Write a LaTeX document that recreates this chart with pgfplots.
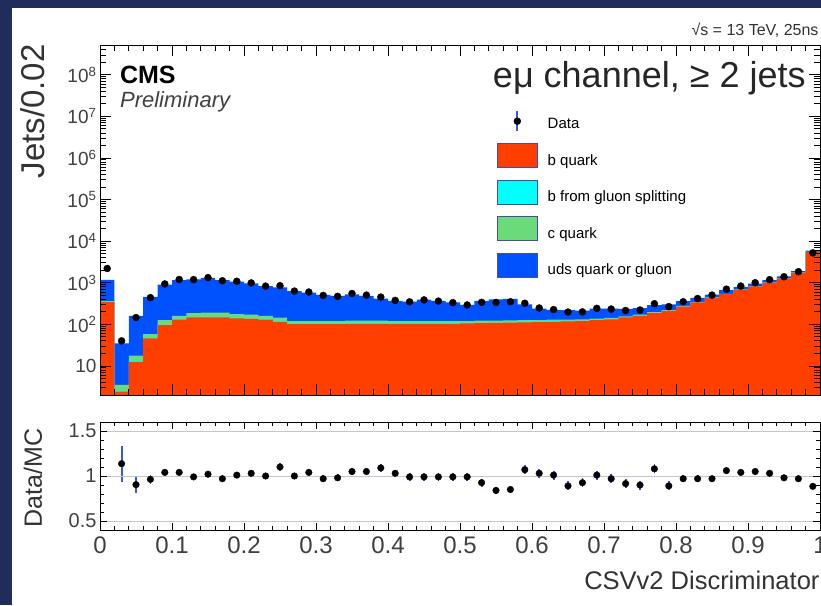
\documentclass[border=0pt]{standalone}
\usepackage{fontspec}
\setmainfont{Liberation Sans}
\usepackage{pgfplots}
\usepackage{pgfplotstable}
\pgfplotsset{compat=1.18}

\definecolor{borange}{HTML}{FF3F00}
\definecolor{gspcyan}{HTML}{00FFFF}
\definecolor{cgreen}{HTML}{6BDB7A}
\definecolor{udsblue}{HTML}{0051FF}
\definecolor{errblue}{HTML}{3A55E8}
\definecolor{boxedge}{HTML}{4A4AA8}
\definecolor{bgnavy}{HTML}{1F2C5C}

% MC stack: left bin edge, b quark, b from gluon splitting, c quark, uds/gluon
\pgfplotstableread{
x b gsp c uds
0.00 340 5 15 810
0.02 2.4 0.1 1.0 31.5
0.04 12.6 0.4 4.6 142.4
0.06 46 1 11 397
0.08 96 2 28 774
0.10 129 3 28 990
0.12 146 3 37 1014
0.14 146 3 41 1110
0.16 146 3 41 960
0.18 140 3 32 895
0.20 135 3 32 790
0.22 130 3 27 670
0.24 115 3 27 625
0.26 101 2 17 510
0.28 101 2 17 455
0.30 101 2 17 390
0.32 101 2 17 360
0.34 103 2 17 403
0.36 103 2 17 358
0.38 103 2 17 293
0.40 103 2 15 245
0.42 103 2 15 230
0.44 103 2 15 270
0.46 103 2 15 245
0.48 103 2 15 215
0.50 105 2 13 175
0.52 107 2 13 243
0.54 108 2 13 277
0.56 110 2 13 285
0.58 112 2 12 174
0.60 113 2 12 113
0.62 115 2 12 95
0.64 117 2 11 91
0.66 120 2 10 83
0.68 126 2 9 103
0.70 132 2 9 97
0.72 146 2 8 79
0.74 160 2 8 75
0.76 186 2 8 94
0.78 211 2 7 80
0.80 267 2 8 83
0.82 335 2 8 85
0.84 440 2 8 70
0.86 530 2 8 120
0.88 680 3 7 110
0.90 815 3 7 125
0.92 1010 3 7 130
0.94 1260 3 7 150
0.96 1760 3 7 130
0.98 5500 5 15 380
1.00 5500 5 15 380
}\mc

% Data: bin centre, jets, error
\pgfplotstableread{
x y ey
0.01 2200 47
0.03 40 6.3
0.05 145 12
0.07 438 21
0.09 936 31
0.11 1196 35
0.13 1188 34
0.15 1326 36
0.17 1116 33
0.19 1081 33
0.21 989 31
0.23 830 29
0.25 847 29
0.27 630 25
0.29 598 24
0.31 495 22
0.33 470 22
0.35 551 23
0.37 504 22
0.39 452 21
0.41 376 19
0.43 347 19
0.45 386 20
0.47 361 19
0.49 332 18
0.51 292 17
0.53 338 18
0.55 336 18
0.57 349 19
0.59 321 18
0.61 247 16
0.63 226 15
0.65 197 14
0.67 199 14
0.69 242 16
0.71 233 15
0.73 215 15
0.75 221 15
0.77 313 18
0.79 267 16
0.81 349 19
0.83 417 20
0.85 504 22
0.87 700 26
0.89 832 29
0.91 998 32
0.93 1185 34
0.95 1392 37
0.97 1843 43
0.99 5222 72
}\data

% Data/MC ratio
\pgfplotstableread{
x r er
0.03 1.137 0.20
0.05 0.904 0.09
0.07 0.963 0.05
0.09 1.04 0.02
0.11 1.04 0.02
0.13 0.99 0.02
0.15 1.02 0.02
0.17 0.97 0.02
0.19 1.01 0.02
0.21 1.03 0.02
0.23 1.00 0.02
0.25 1.10 0.04
0.27 1.00 0.03
0.29 1.04 0.04
0.31 0.97 0.04
0.33 0.98 0.04
0.35 1.05 0.04
0.37 1.05 0.04
0.39 1.09 0.04
0.41 1.03 0.04
0.43 0.99 0.04
0.45 0.99 0.04
0.47 0.99 0.04
0.49 0.99 0.04
0.51 0.99 0.045
0.53 0.926 0.045
0.55 0.84 0.04
0.57 0.85 0.04
0.59 1.07 0.05
0.61 1.03 0.05
0.63 1.01 0.05
0.65 0.89 0.05
0.67 0.926 0.05
0.69 1.01 0.05
0.71 0.97 0.05
0.73 0.915 0.05
0.75 0.90 0.05
0.77 1.08 0.05
0.79 0.89 0.05
0.81 0.97 0.04
0.83 0.97 0.04
0.85 0.97 0.035
0.87 1.06 0.03
0.89 1.04 0.02
0.91 1.05 0.015
0.93 1.03 0.015
0.95 0.98 0.015
0.97 0.97 0.015
0.99 0.885 0.015
}\ratio

\begin{document}
\begin{tikzpicture}
\fill[white] (0pt,0pt) rectangle (821pt,605pt);
\fill[bgnavy] (0pt,0pt) rectangle (12pt,605pt);
\fill[bgnavy] (0pt,597pt) rectangle (821pt,605pt);

% ---------------- upper panel ----------------
\begin{axis}[
  at={(100pt,210pt)}, anchor=south west,
  scale only axis, width=720pt, height=350pt,
  xmin=0, xmax=1, ymode=log, ymin=2, ymax=5.2e8,
  axis on top, tick align=inside, tick pos=both,
  axis line style={line width=0.9pt},
  tick style={line width=0.8pt, black},
  major tick length=11pt, minor tick length=6pt,
  xtick={0,0.1,0.2,0.3,0.4,0.5,0.6,0.7,0.8,0.9,1},
  minor x tick num=4,
  xticklabels={},
  ytick={10,100,1000,10000,100000,1000000,10000000,100000000},
  yticklabels={10,10\textsuperscript{2},10\textsuperscript{3},10\textsuperscript{4},10\textsuperscript{5},10\textsuperscript{6},10\textsuperscript{7},10\textsuperscript{8}},
  minor ytick={2,3,4,5,6,7,8,9,20,30,40,50,60,70,80,90,200,300,400,500,600,700,800,900,2000,3000,4000,5000,6000,7000,8000,9000,2e4,3e4,4e4,5e4,6e4,7e4,8e4,9e4,2e5,3e5,4e5,5e5,6e5,7e5,8e5,9e5,2e6,3e6,4e6,5e6,6e6,7e6,8e6,9e6,2e7,3e7,4e7,5e7,6e7,7e7,8e7,9e7,2e8,3e8,4e8,5e8},
  yticklabel style={font=\fontsize{19}{19}\selectfont, text=black!75},
  ylabel={Jets/0.02},
  ylabel style={at={(axis description cs:-0.093,0.81)}, anchor=center, font=\fontsize{33}{33}\selectfont, text=black!80},
  legend style={at={(rel axis cs:0.551,0.814)}, anchor=north west, draw=none, fill=none,
    font=\fontsize{15}{15}\selectfont, row sep=11pt, inner sep=0pt,
    cells={anchor=west}, /tikz/every odd column/.append style={column sep=8pt}},
  legend cell align=left,
]
\addlegendimage{legend image code/.code={\draw[errblue, line width=1.8pt] (20pt,-7pt) -- (20pt,13pt); \fill[black] (20pt,3pt) circle (3.5pt);}}
\addlegendentry{Data}
\addlegendimage{legend image code/.code={\draw[fill=borange, draw=boxedge, line width=0.8pt] (0pt,-7pt) rectangle (40pt,17pt);}}
\addlegendentry{b quark}
\addlegendimage{legend image code/.code={\draw[fill=gspcyan, draw=boxedge, line width=0.8pt] (0pt,-7pt) rectangle (40pt,17pt);}}
\addlegendentry{b from gluon splitting}
\addlegendimage{legend image code/.code={\draw[fill=cgreen, draw=boxedge, line width=0.8pt] (0pt,-7pt) rectangle (40pt,17pt);}}
\addlegendentry{c quark}
\addlegendimage{legend image code/.code={\draw[fill=udsblue, draw=boxedge, line width=0.8pt] (0pt,-7pt) rectangle (40pt,17pt);}}
\addlegendentry{uds quark or gluon}

\addplot[const plot mark left, fill=udsblue, draw=none, forget plot]
  table[x=x, y expr=\thisrow{b}+\thisrow{gsp}+\thisrow{c}+\thisrow{uds}] {\mc} \closedcycle;
\addplot[const plot mark left, fill=cgreen, draw=none, forget plot]
  table[x=x, y expr=\thisrow{b}+\thisrow{gsp}+\thisrow{c}] {\mc} \closedcycle;
\addplot[const plot mark left, fill=gspcyan, draw=none, forget plot]
  table[x=x, y expr=\thisrow{b}+\thisrow{gsp}] {\mc} \closedcycle;
\addplot[const plot mark left, fill=borange, draw=none, forget plot]
  table[x=x, y=b] {\mc} \closedcycle;
\addplot[only marks, mark=*, mark size=3.5pt, black, forget plot,
  error bars/.cd, y dir=both, y explicit,
  error bar style={errblue, line width=1.5pt}, error mark=none]
  table[x=x, y=y, y error=ey] {\data};

\node[anchor=west, font=\fontsize{25}{25}\selectfont\bfseries] at (rel axis cs:0.023,0.914) {CMS};
\node[anchor=west, font=\fontsize{22}{22}\selectfont\itshape, text=black!75] at (rel axis cs:0.023,0.837) {Preliminary};
\node[anchor=east, font=\fontsize{36}{36}\selectfont, text=black!85] at (rel axis cs:0.985,0.906) {eμ channel, ≥ 2 jets};
\end{axis}

% ---------------- ratio panel ----------------
\begin{axis}[
  at={(100pt,75pt)}, anchor=south west,
  scale only axis, width=720pt, height=108pt,
  xmin=0, xmax=1, ymin=0.4, ymax=1.6,
  axis on top, tick align=inside, tick pos=both,
  axis line style={line width=0.9pt},
  tick style={line width=0.8pt, black},
  major tick length=7pt, minor tick length=4pt,
  xtick={0,0.1,0.2,0.3,0.4,0.5,0.6,0.7,0.8,0.9,1},
  xticklabels={0,0.1,0.2,0.3,0.4,0.5,0.6,0.7,0.8,0.9,1},
  minor x tick num=4,
  ytick={0.5,1,1.5}, yticklabels={0.5,1,1.5},
  minor y tick num=4,
  ymajorgrids, major grid style={gray!45, line width=0.9pt},
  xticklabel style={font=\fontsize{24}{24}\selectfont, text=black!75, yshift=-3pt},
  yticklabel style={font=\fontsize{20}{20}\selectfont, text=black!75},
  xlabel={CSVv2 Discriminator},
  xlabel style={at={(axis description cs:1,0)}, anchor=east, xshift=3pt, yshift=-50pt, font=\fontsize{25.5}{25.5}\selectfont, text=black!80},
  ylabel={Data/MC},
  ylabel style={at={(axis description cs:-0.093,0.48)}, anchor=center, font=\fontsize{25}{25}\selectfont, text=black!80},
]
\addplot[only marks, mark=*, mark size=3.3pt, black,
  error bars/.cd, y dir=both, y explicit,
  error bar style={errblue, line width=1.8pt}, error mark=none]
  table[x=x, y=r, y error=er] {\ratio};
\end{axis}

\node[anchor=east, font=\fontsize{16}{16}\selectfont, text=black!80] at (822pt,575pt) {√s = 13 TeV, 25ns};

\pgfresetboundingbox
\path[use as bounding box] (0pt,0pt) rectangle (821pt,605pt);
\end{tikzpicture}
\end{document}
